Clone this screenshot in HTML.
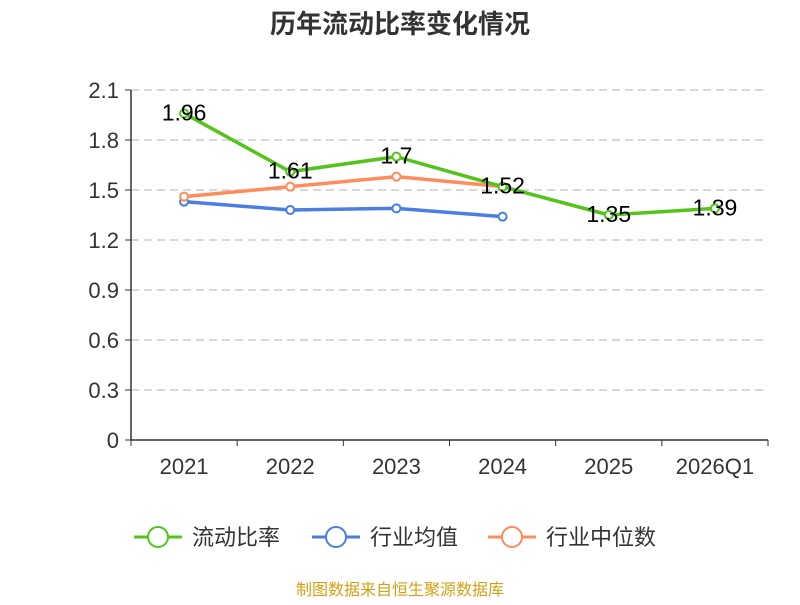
<!DOCTYPE html>
<html><head><meta charset="utf-8"><style>
body{margin:0;background:#fff;}
svg{font-family:"Liberation Sans","Noto Sans CJK SC",sans-serif;}
</style></head><body>
<svg width="800" height="600">
<text x="400" y="33" text-anchor="middle" font-size="26" font-weight="bold" fill="#333">历年流动比率变化情况</text>
<g id="grid"></g><g id="axes"></g><g id="series"></g>
<g font-size="22" fill="#333">
 <g><line x1="134" y1="537" x2="182" y2="537" stroke="#52c41a" stroke-width="3"/><circle cx="158" cy="537" r="10" fill="#fff" stroke="#52c41a" stroke-width="2"/><text x="192" y="545">流动比率</text></g>
 <g><line x1="312" y1="537" x2="360" y2="537" stroke="#4a7ee0" stroke-width="3"/><circle cx="336" cy="537" r="10" fill="#fff" stroke="#4a7ee0" stroke-width="2"/><text x="370" y="545">行业均值</text></g>
 <g><line x1="488" y1="537" x2="536" y2="537" stroke="#ff8c5a" stroke-width="3"/><circle cx="512" cy="537" r="10" fill="#fff" stroke="#ff8c5a" stroke-width="2"/><text x="546" y="545">行业中位数</text></g>
</g>
<text x="400" y="595" text-anchor="middle" font-size="16" fill="#d4a017">制图数据来自恒生聚源数据库</text>
</svg>
<script>
const categories=["2021","2022","2023","2024","2025","2026Q1"];
const ratio=[1.96,1.61,1.7,1.52,1.35,1.39];
const mean=[1.43,1.38,1.39,1.34];
const median=[1.46,1.52,1.58,1.52];
const yTicks=[0,0.3,0.6,0.9,1.2,1.5,1.8,2.1];
const yTickLabels=["0","0.3","0.6","0.9","1.2","1.5","1.8","2.1"];
const L=131,R=768,T=90,B=440,band=(R-L)/categories.length;
const x=i=>L+band*(i+0.5), y=v=>B-(v/2.1)*(B-T);
const NS="http://www.w3.org/2000/svg";
function mk(p,t,a){const e=document.createElementNS(NS,t);for(const k in a)e.setAttribute(k,a[k]);p.appendChild(e);return e;}
const grid=document.getElementById('grid'),axes=document.getElementById('axes'),ser=document.getElementById('series');
yTicks.forEach((v,i)=>{
 if(v>0){const g=mk(grid,'line',{x1:L,x2:R,y1:y(v),y2:y(v),stroke:'#ccc','stroke-dasharray':'8,5','stroke-width':1.5});
 
 }
 const tk=mk(axes,'line',{x1:L-6,x2:L,y1:y(v),y2:y(v),stroke:'#333'});
 
 
 const t=mk(axes,'text',{x:L-12,y:y(v)+8,'text-anchor':'end','font-size':22,fill:'#333'});t.textContent=yTickLabels[i];
 
 
});
const ya=mk(axes,'line',{x1:L,x2:L,y1:T,y2:B,stroke:'#333','stroke-width':1.5});


const xa=mk(axes,'line',{x1:L,x2:R,y1:B,y2:B,stroke:'#333','stroke-width':1.5});


for(let i=0;i<=categories.length;i++){const tk=mk(axes,'line',{x1:L+band*i,x2:L+band*i,y1:B,y2:B+6,stroke:'#333'});
 
 }
categories.forEach((c,i)=>{const t=mk(axes,'text',{x:x(i),y:B+34,'text-anchor':'middle','font-size':22,fill:'#333'});t.textContent=c;
 
 });
function line(data,color,name,labels){
 const g=mk(ser,'g',{});
 
 
 mk(g,'polyline',{points:data.map((v,i)=>x(i)+','+y(v)).join(' '),fill:'none',stroke:color,'stroke-width':3.5,'stroke-linejoin':'round'});
 data.forEach((v,i)=>{const c=mk(g,'circle',{cx:x(i),cy:y(v),r:4,fill:'#fff',stroke:color,'stroke-width':2});
  
  });
 if(labels)data.forEach((v,i)=>{const t=mk(g,'text',{x:x(i),y:y(v)+7,'text-anchor':'middle','font-size':23,fill:'#000'});t.textContent=String(v);
  
  });
}
line(mean,'#4a7ee0','industry-mean-line',false);
line(median,'#ff8c5a','industry-median-line',false);
line(ratio,'#52c41a','current-ratio-line',true);
</script>
</body></html>
